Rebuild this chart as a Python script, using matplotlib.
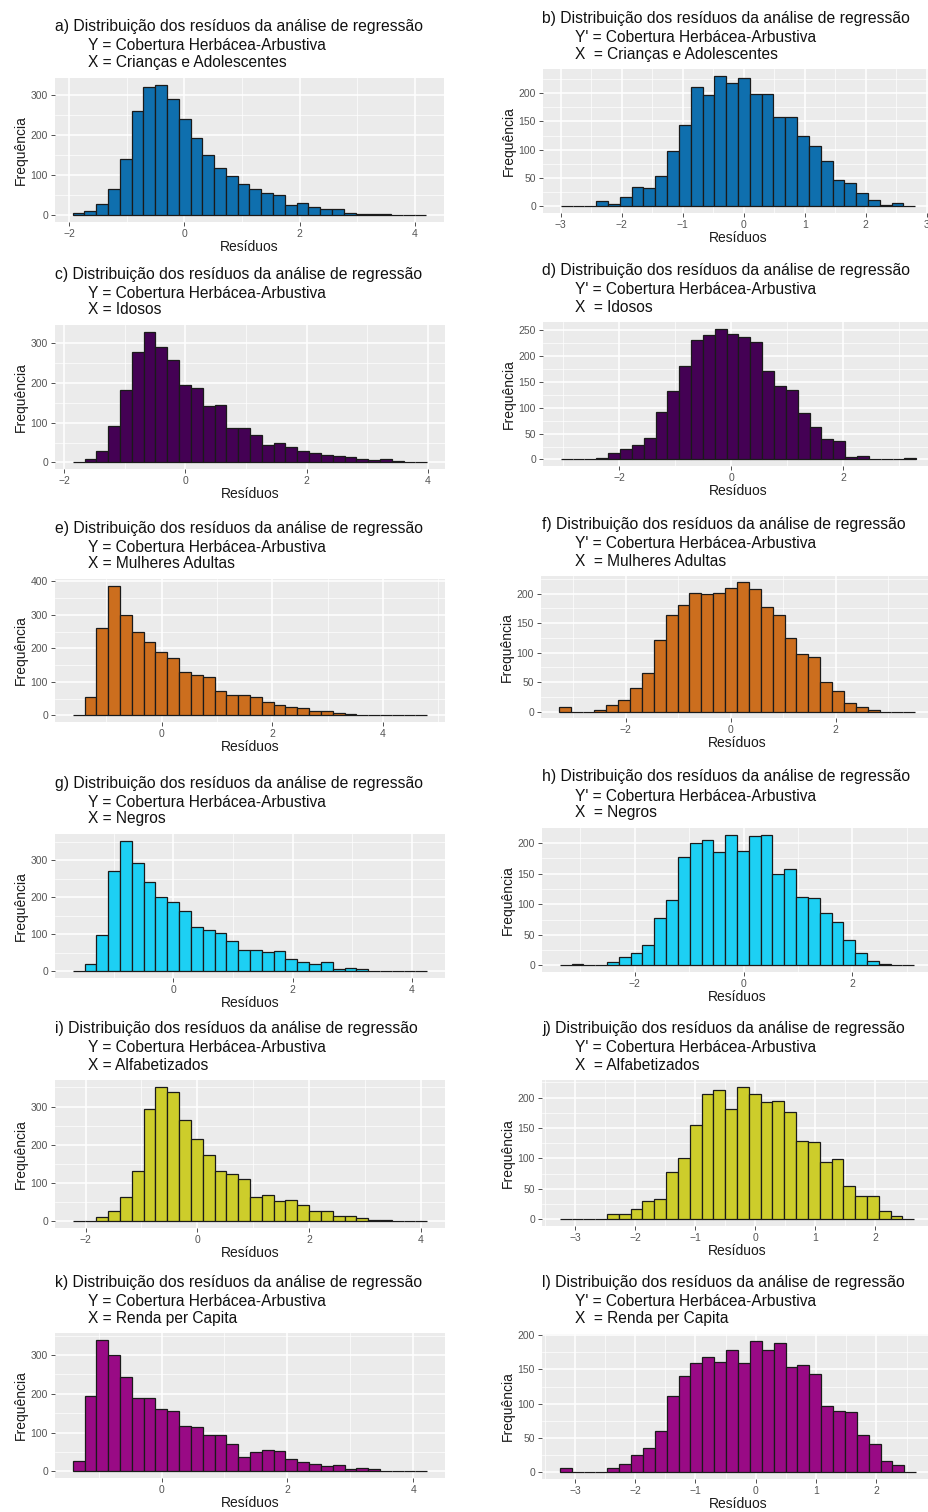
import matplotlib.pyplot as plt
from matplotlib.ticker import MultipleLocator, AutoMinorLocator
import numpy as np

plt.rcParams['font.family'] = ['Liberation Sans', 'DejaVu Sans']

# textos
titulo = 'Distribuição dos resíduos da análise de regressão'
y_esq = 'Y = Cobertura Herbácea-Arbustiva'
y_dir = "Y' = Cobertura Herbácea-Arbustiva"
variaveis = ['Crianças e Adolescentes', 'Idosos', 'Mulheres Adultas',
             'Negros', 'Alfabetizados', 'Renda per Capita']
letras = ['a)', 'b)', 'c)', 'd)', 'e)', 'f)', 'g)', 'h)', 'i)', 'j)', 'k)', 'l)']
cores = ['#0F6FAE', '#440154', '#CC6E1E', '#1DD0F4', '#CDCD2B', '#990A85']

# primeira e ultima borda das 30 classes de cada histograma
lim_a = (-1.94, 4.20)
lim_b = (-3.00, 2.81)
lim_c = (-1.86, 3.99)
lim_d = (-3.04, 3.30)
lim_e = (-1.61, 4.80)
lim_f = (-3.27, 3.51)
lim_g = (-1.69, 4.26)
lim_h = (-3.38, 3.14)
lim_i = (-2.23, 4.12)
lim_j = (-3.26, 2.65)
lim_k = (-1.41, 4.22)
lim_l = (-3.25, 2.66)

# frequencias (30 classes)
freq_a = [5, 12, 29, 65, 140, 260, 322, 327, 290, 240, 193, 152, 118, 98, 79,
          65, 55, 50, 26, 31, 21, 17, 17, 7, 3, 4, 4, 2, 1, 1]
freq_b = [0, 0, 0, 9, 5, 16, 35, 33, 53, 97, 143, 210, 196, 231, 217,
          227, 198, 198, 157, 157, 124, 107, 80, 46, 41, 23, 11, 3, 6, 0]
freq_c = [1, 8, 28, 91, 183, 278, 330, 292, 259, 194, 187, 143, 146, 87, 87,
          70, 45, 49, 38, 28, 25, 20, 16, 15, 9, 6, 9, 3, 1, 1]
freq_d = [0, 0, 0, 3, 12, 21, 27, 41, 91, 132, 180, 231, 240, 253, 242,
          236, 227, 171, 141, 134, 89, 63, 40, 35, 5, 6, 0, 0, 0, 2]
freq_e = [2, 55, 260, 388, 300, 248, 220, 191, 172, 131, 120, 115, 72, 60, 60,
          54, 41, 32, 25, 22, 14, 14, 6, 5, 2, 2, 2, 0, 0, 1]
freq_f = [7, 0, 0, 2, 11, 20, 40, 66, 121, 164, 180, 201, 199, 201, 210,
          219, 208, 177, 163, 124, 98, 93, 50, 35, 14, 8, 2, 0, 0, 0]
freq_g = [0, 20, 97, 270, 353, 293, 242, 200, 187, 163, 120, 112, 105, 83, 57,
          57, 52, 55, 33, 26, 19, 26, 7, 10, 7, 2, 2, 2, 2, 0]
freq_h = [0, 2, 1, 1, 6, 14, 20, 33, 78, 107, 177, 200, 205, 186, 214,
          187, 211, 214, 150, 158, 112, 110, 85, 71, 41, 20, 8, 3, 0, 0]
freq_i = [0, 2, 10, 27, 63, 131, 295, 352, 337, 266, 215, 174, 131, 123, 110,
          63, 69, 53, 55, 43, 28, 26, 15, 15, 9, 4, 4, 2, 2, 0]
freq_j = [0, 0, 1, 0, 8, 8, 17, 30, 33, 78, 100, 155, 206, 213, 182,
          218, 206, 192, 195, 177, 129, 127, 94, 99, 54, 38, 38, 13, 6, 1]
freq_k = [27, 195, 340, 301, 243, 190, 190, 162, 155, 117, 115, 95, 95, 71, 38,
          49, 54, 52, 31, 25, 20, 15, 17, 5, 10, 5, 2, 2, 2, 0]
freq_l = [6, 1, 1, 1, 6, 12, 26, 35, 61, 112, 140, 160, 168, 161, 178,
          160, 192, 178, 188, 154, 156, 143, 96, 89, 88, 54, 42, 17, 11, 1]

limites = [lim_a, lim_b, lim_c, lim_d, lim_e, lim_f, lim_g, lim_h, lim_i, lim_j, lim_k, lim_l]
freqs = [freq_a, freq_b, freq_c, freq_d, freq_e, freq_f, freq_g, freq_h, freq_i, freq_j, freq_k, freq_l]

# caixas dos paineis em pixels (esq, topo, dir, base)
caixas = [(55, 78, 444, 222), (543, 69, 933, 213),
          (55, 325, 445, 469), (543, 322, 934, 466),
          (55, 579, 445, 722), (541, 576, 933, 718),
          (55, 834, 445, 978), (542, 828, 932, 972),
          (55, 1080, 445, 1228), (542, 1080, 932, 1226),
          (55, 1333, 445, 1478), (542, 1334, 934, 1479)]

W, H = 929, 1512
fig = plt.figure(figsize=(W / 100, H / 100), dpi=100)
fig.patch.set_facecolor('white')

for n in range(12):
    esq, topo, dir_, base = caixas[n]
    ax = fig.add_axes([esq / W, 1 - base / H, (dir_ - esq) / W, (base - topo) / H])
    lo, hi = limites[n]
    bordas = np.linspace(lo, hi, 31)
    larg = bordas[1] - bordas[0]
    cor = cores[n // 2]
    ax.bar(bordas[:-1], freqs[n], width=larg, align='edge', color=cor,
           edgecolor='#1a1a1a', linewidth=0.9, zorder=3)

    # limites no estilo ggplot (5% de expansao)
    dx = (hi - lo) * 0.05
    ymax = max(freqs[n])
    ax.set_xlim(lo - dx, hi + dx)
    ax.set_ylim(-ymax * 0.05, ymax * 1.05)

    ax.set_facecolor('#EBEBEB')
    for s in ax.spines.values():
        s.set_visible(False)
    ax.xaxis.set_major_locator(MultipleLocator(2 if n % 2 == 0 or n in (3, 5, 7) else 1))
    ax.yaxis.set_major_locator(MultipleLocator(100 if n % 2 == 0 else 50))
    ax.xaxis.set_minor_locator(AutoMinorLocator(2))
    ax.yaxis.set_minor_locator(AutoMinorLocator(2))
    ax.grid(which='major', color='white', linewidth=1.1, zorder=0)
    ax.grid(which='minor', color='white', linewidth=0.5, zorder=0)
    ax.set_axisbelow(True)
    ax.tick_params(which='major', length=3, width=0.6, color='#333333',
                   labelsize=7.5, labelcolor='#555555', pad=2)
    ax.tick_params(which='minor', length=0)
    ax.set_xlabel('Resíduos', fontsize=10, color='#1a1a1a', labelpad=1)
    ax.set_ylabel('Frequência', fontsize=10, color='#1a1a1a', labelpad=2)

    # titulo em tres linhas
    if n % 2 == 0:
        x1, x2 = 55, 88
        l2 = y_esq
        l3 = 'X = ' + variaveis[n // 2]
    else:
        x1, x2 = 542, 575
        l2 = y_dir
        l3 = 'X  = ' + variaveis[n // 2]
    fig.text(x1 / W, 1 - (topo - 51) / H, letras[n] + ' ' + titulo,
             fontsize=11.3, va='center', ha='left', color='#111111')
    fig.text(x2 / W, 1 - (topo - 32) / H, l2, fontsize=11.2, va='center', ha='left', color='#111111')
    fig.text(x2 / W, 1 - (topo - 15) / H, l3, fontsize=11.2, va='center', ha='left', color='#111111')

fig.savefig('out.png', dpi=100, facecolor='white')
